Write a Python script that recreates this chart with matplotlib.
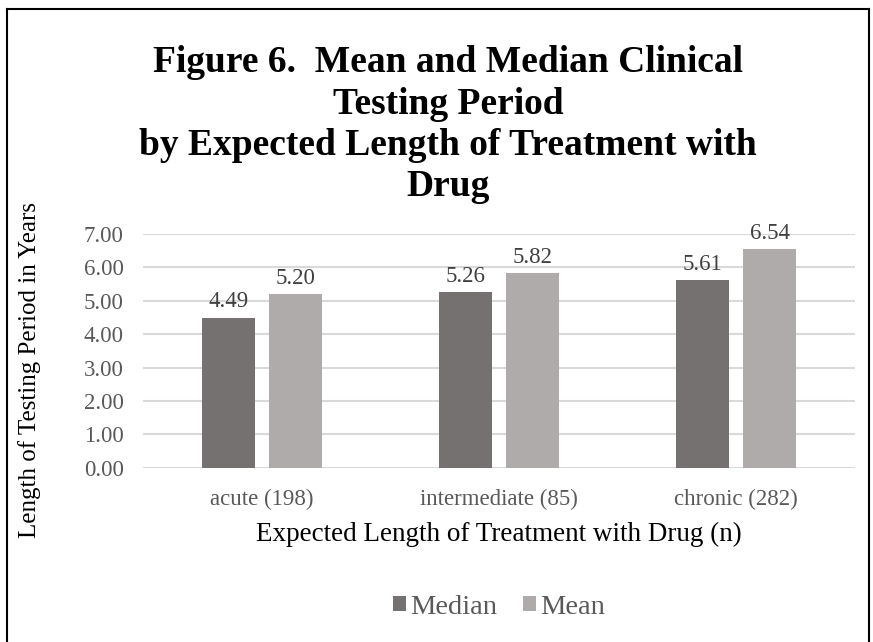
import matplotlib
matplotlib.use('Agg')
import matplotlib.pyplot as plt
import numpy as np
from matplotlib.lines import Line2D

plt.rcParams['font.family'] = ['Liberation Serif', 'DejaVu Serif']

categories = ['acute (198)', 'intermediate (85)', 'chronic (282)']
median = [4.49, 5.26, 5.61]
mean = [5.20, 5.82, 6.54]
yticks = [0, 1, 2, 3, 4, 5, 6, 7]

c_median = '#767171'
c_mean = '#AFABAB'
grey_txt = '#595959'

fig = plt.figure(figsize=(8.73, 6.42), dpi=100)
ax = fig.add_axes([143/873, 1 - 467.7/642, 712/873, 233.7/642])

x = np.arange(len(categories))
w = 0.223
off = 0.141
b1 = ax.bar(x - off, median, w, color=c_median, label='Median', zorder=3)
b2 = ax.bar(x + off, mean, w, color=c_mean, label='Mean', zorder=3)

ax.bar_label(b1, fmt='%.2f', padding=4, fontsize=16.5, color='#404040')
ax.bar_label(b2, fmt='%.2f', padding=4, fontsize=16.5, color='#404040')

ax.set_xlim(-0.5, 2.5)
ax.set_ylim(0, 7)
ax.set_yticks(yticks)
ax.set_yticklabels(['%.2f' % v for v in yticks])
ax.set_xticks(x)
ax.set_xticklabels(categories)
ax.yaxis.grid(True, color='#D9D9D9', linewidth=1.5, zorder=0)
ax.tick_params(axis='both', length=0, labelsize=16.5, labelcolor=grey_txt)
ax.tick_params(axis='y', pad=14)
ax.tick_params(axis='x', pad=15)
for s in ax.spines.values():
    s.set_visible(False)

ax.set_xlabel('Expected Length of Treatment with Drug (n)', fontsize=19.5,
              color='black', labelpad=9)
fig.text(30/873, 1 - 370/642, 'Length of Testing Period in Years', rotation=90,
         fontsize=18, ha='center', va='center')

# title, four centred lines
title_lines = ['Figure 6.  Mean and Median Clinical', 'Testing Period',
               'by Expected Length of Treatment with', 'Drug']
for i, t in enumerate(title_lines):
    fig.text(0.513, 1 - (72 + 41.5 * i)/642, t, fontsize=27, fontweight='bold',
             ha='center', va='baseline')

leg = fig.legend(handles=[b1, b2], loc='center', bbox_to_anchor=(499/873, 1 - 607/642),
                 ncol=2, frameon=False, fontsize=20.5, handlelength=0.45,
                 handleheight=0.45, handletextpad=0.15, columnspacing=0.9)
for t in leg.get_texts():
    t.set_color(grey_txt)

# outer frame
for xs, ys in [([7, 7], [9, 642]), ([7, 869], [9, 9]), ([869, 869], [9, 642])]:
    fig.add_artist(Line2D([v/873 for v in xs], [1 - v/642 for v in ys],
                          color='black', linewidth=1.5))

fig.savefig('out.png', dpi=100)
